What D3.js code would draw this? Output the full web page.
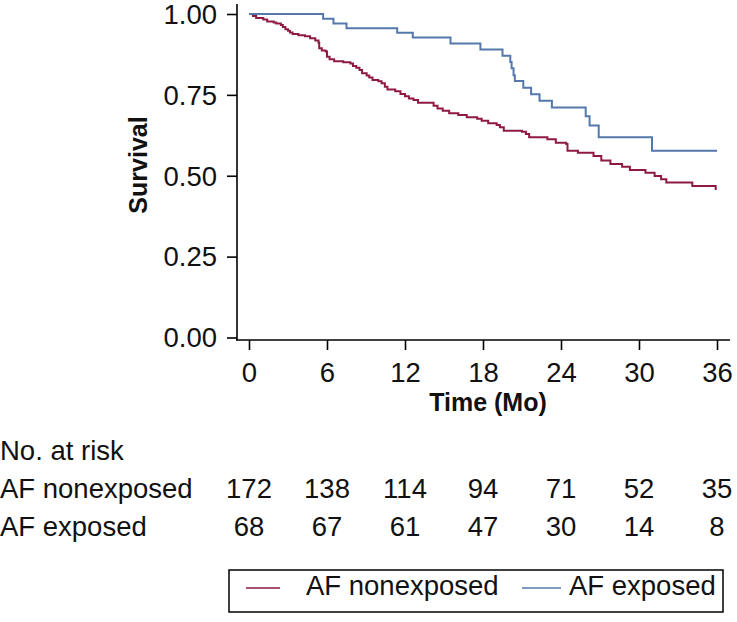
<!DOCTYPE html>
<html><head><meta charset="utf-8">
<script src="https://cdn.jsdelivr.net/npm/d3@7/dist/d3.min.js"></script>
<style>
html,body{margin:0;padding:0;background:#fff;}
svg{display:block;font-family:"Liberation Sans",Arial,Helvetica,sans-serif;}
</style></head><body>
<svg id="chart" width="737" height="622"></svg>
<script>
// ---- data ----
const seriesNames = ["AF nonexposed", "AF exposed"];
const seriesColors = ["#8e1a42", "#5478ab"];
// AF nonexposed: [time (months), survival after event]
const nonexposedSteps = [
  [0,1.0],[0.3,0.994],[0.55,0.988],[1.1,0.983],[1.4,0.977],[1.9,0.974],[2.1,0.971],[2.45,0.966],
  [2.6,0.960],[2.8,0.953],[3.0,0.948],[3.15,0.943],[3.35,0.938],[3.8,0.934],[4.3,0.931],[4.7,0.925],
  [5.1,0.918],[5.35,0.911],[5.4,0.894],[5.6,0.887],[5.9,0.884],[6.0,0.868],[6.2,0.860],[6.55,0.854],
  [7.25,0.851],[7.8,0.847],[8.0,0.839],[8.25,0.834],[8.5,0.827],[8.7,0.817],[9.05,0.810],[9.25,0.804],
  [9.5,0.796],[9.95,0.792],[10.2,0.786],[10.45,0.775],[10.65,0.767],[11.25,0.761],[11.65,0.753],
  [12.0,0.746],[12.3,0.739],[12.65,0.734],[13.0,0.726],[14.2,0.716],[14.5,0.708],[14.9,0.701],
  [15.4,0.693],[16.1,0.688],[16.75,0.681],[17.55,0.676],[17.9,0.670],[18.4,0.662],[19.05,0.657],
  [19.3,0.650],[19.6,0.639],[21.0,0.636],[21.3,0.629],[21.55,0.619],[22.95,0.613],[23.6,0.602],
  [24.4,0.598],[24.5,0.577],[25.3,0.571],[26.5,0.561],[27.1,0.547],[27.8,0.536],[28.7,0.528],
  [29.3,0.518],[30.5,0.509],[31.2,0.499],[31.7,0.489],[32.1,0.479],[34.1,0.468],[35.9,0.456]
];
const nonexposedEnd = 35.9;
// AF exposed
const exposedSteps = [
  [0,1.0],[5.7,0.985],[6.5,0.971],[7.5,0.956],[11.4,0.942],[12.6,0.927],[15.5,0.909],[17.8,0.890],
  [19.5,0.871],[20.1,0.852],[20.2,0.832],[20.35,0.811],[20.45,0.793],[21.1,0.772],[21.7,0.752],
  [22.35,0.732],[23.3,0.711],[25.9,0.684],[26.2,0.655],[26.9,0.619],[31.0,0.577]
];
const exposedEnd = 36.0;
const xTicks = [0, 6, 12, 18, 24, 30, 36];
const yTicks = [0, 0.25, 0.5, 0.75, 1.0];
const atRiskNonexposed = [172, 138, 114, 94, 71, 52, 35];
const atRiskExposed = [68, 67, 61, 47, 30, 14, 8];

// ---- drawing ----
const svg = d3.select("#chart");
const x = d3.scaleLinear().domain([0, 36]).range([249, 717]);
const y = d3.scaleLinear().domain([0, 1]).range([337.5, 14]);
const FS = 27.5;

// axes lines
svg.append("line").attr("x1", 237).attr("x2", 237).attr("y1", 4).attr("y2", 340.5)
  .attr("stroke", "#000").attr("stroke-width", 1.6);
svg.append("line").attr("x1", 236.2).attr("x2", 730).attr("y1", 340).attr("y2", 340)
  .attr("stroke", "#000").attr("stroke-width", 1.6);

const yAxis = svg.append("g").attr("transform", "translate(237,0)")
  .call(d3.axisLeft(y).tickValues(yTicks).tickFormat(d3.format(".2f")).tickSize(10).tickPadding(10));
yAxis.select(".domain").remove();
yAxis.selectAll("line").attr("stroke", "#000").attr("stroke-width", 1.6);
yAxis.selectAll("text").attr("font-size", FS).attr("fill", "#111").attr("dy", "0.34em")
  .attr("font-family", "Liberation Sans, Arial, sans-serif");

const xAxis = svg.append("g").attr("transform", "translate(0,340)")
  .call(d3.axisBottom(x).tickValues(xTicks).tickSize(10).tickPadding(12));
xAxis.select(".domain").remove();
xAxis.selectAll("line").attr("stroke", "#000").attr("stroke-width", 1.6);
xAxis.selectAll("text").attr("font-size", FS).attr("fill", "#111")
  .attr("font-family", "Liberation Sans, Arial, sans-serif");

// axis titles
svg.append("text").attr("x", 488).attr("y", 411).attr("text-anchor", "middle")
  .attr("font-size", 25).attr("font-weight", "bold").attr("fill", "#111").text("Time (Mo)");
svg.append("text").attr("transform", "translate(146.5,165) rotate(-90)").attr("text-anchor", "middle")
  .attr("font-size", 25).attr("font-weight", "bold").attr("fill", "#111").text("Survival");

// KM curves
function stepPath(steps, end) {
  const pts = [];
  steps.forEach((d, i) => {
    if (i > 0) pts.push([d[0], steps[i - 1][1]]);
    pts.push([d[0], d[1]]);
  });
  if (end > steps[steps.length - 1][0]) pts.push([end, steps[steps.length - 1][1]]);
  return pts;
}
const line = d3.line().x(d => x(d[0])).y(d => y(d[1]));
const curves = [[nonexposedSteps, nonexposedEnd], [exposedSteps, exposedEnd]];
curves.forEach((c, i) => {
  svg.append("path").datum(stepPath(c[0], c[1])).attr("d", line)
    .attr("fill", "none").attr("stroke", seriesColors[i]).attr("stroke-width", 2);
});

// risk table
svg.append("text").attr("x", 0).attr("y", 460).attr("font-size", FS).attr("fill", "#111").text("No. at risk");
const rows = [atRiskNonexposed, atRiskExposed];
const rowY = [498, 536];
rows.forEach((r, i) => {
  svg.append("text").attr("x", 0).attr("y", rowY[i]).attr("font-size", FS).attr("fill", "#111").text(seriesNames[i]);
  svg.append("g").selectAll("text").data(r).join("text")
    .attr("x", (d, j) => x(xTicks[j])).attr("y", rowY[i]).attr("text-anchor", "middle")
    .attr("font-size", FS).attr("fill", "#111").text(d => d);
});

// legend
svg.append("rect").attr("x", 229).attr("y", 570).attr("width", 494).attr("height", 42)
  .attr("fill", "none").attr("stroke", "#000").attr("stroke-width", 1.5);
const legX = [[246, 280, 306], [522, 561, 569]];
seriesNames.forEach((n, i) => {
  svg.append("line").attr("x1", legX[i][0]).attr("x2", legX[i][1]).attr("y1", 588).attr("y2", 588)
    .attr("stroke", seriesColors[i]).attr("stroke-width", 1.5);
  svg.append("text").attr("x", legX[i][2]).attr("y", 595).attr("font-size", FS).attr("fill", "#111").text(n);
});
</script>
</body></html>
